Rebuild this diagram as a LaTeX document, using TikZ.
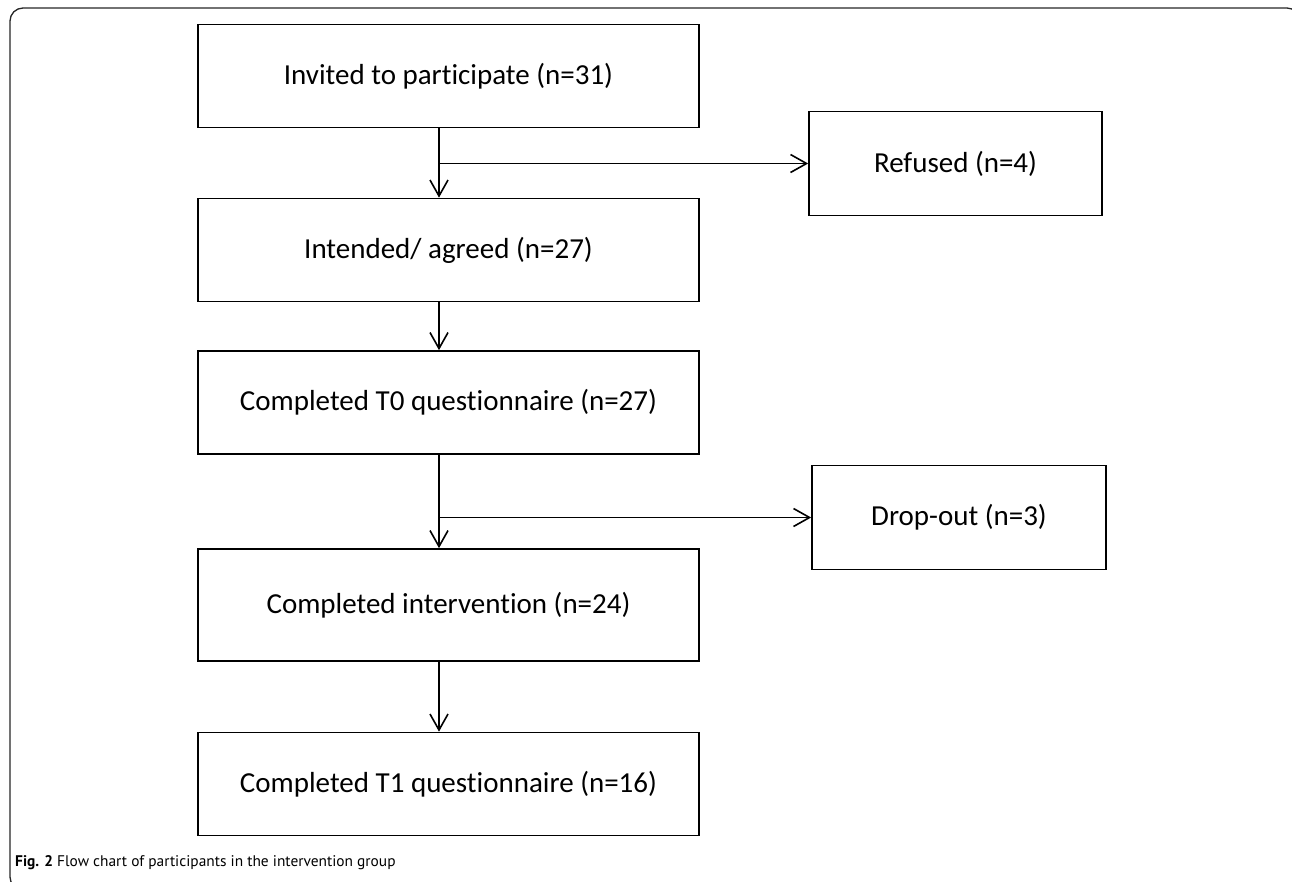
\documentclass[tikz,border=0pt]{standalone}
\usepackage{fontspec}
\setmainfont{Carlito}[Ligatures=NoCommon]
\newfontfamily\capfont{PT Sans}
\usetikzlibrary{arrows.meta, positioning}

\begin{document}
\begin{tikzpicture}[x=1pt, y=-1pt,
  every node/.style={font=\fontsize{29}{34}\selectfont},
  mainbox/.style={draw, line width=1.7pt, minimum width=501pt, minimum height=103pt, inner sep=0pt},
  sidebox/.style={draw, line width=1.7pt, minimum width=294pt, minimum height=104pt, inner sep=0pt},
  flow/.style={line width=1.6pt, -{Straight Barb[length=16pt, width=18pt, line width=1.6pt]}}]
\useasboundingbox (0,0) rectangle (1292,881);
% outer frame, cut by the page edge
\begin{scope}
\clip (0,0) rectangle (1292,881);
\draw[line width=1.3pt, black!85, rounded corners=13pt] (10,8) rectangle (1300,890);
\end{scope}
% main column
\node[mainbox] (invited) at (448.5,76) {Invited to participate (n=31)};
\node[mainbox] (intended) at (448.5,250) {Intended/ agreed (n=27)};
\node[mainbox] (tzero) at (448.5,402.5) {Completed T0 questionnaire (n=27)};
\node[mainbox, minimum height=112pt] (interv) at (448.5,605) {Completed intervention (n=24)};
\node[mainbox] (tone) at (448.5,784) {Completed T1 questionnaire (n=16)};
% side boxes
\node[sidebox, minimum width=293pt] (refused) at (955.5,163.5) {Refused (n=4)};
\node[sidebox] (dropout) at (959,517.5) {Drop-out (n=3)};
% arrows
\coordinate (spine) at (439,0);
\coordinate (split1) at (439,163.5);
\coordinate (split2) at (439,517.5);
\draw[flow] (invited.south -| spine) -- (intended.north -| spine);
\draw[flow] (split1) -- (refused.west);
\draw[flow] (intended.south -| spine) -- (tzero.north -| spine);
\draw[flow] (tzero.south -| spine) -- (interv.north -| spine);
\draw[flow] (split2) -- (dropout.west);
\draw[flow] (interv.south -| spine) -- (tone.north -| spine);
% caption
\node[anchor=base west, inner sep=0pt, font=\capfont\fontsize{15.4}{18}\selectfont] (caption) at (15,866)
  {\textbf{Fig. 2} Flow chart of participants in the intervention group};
\end{tikzpicture}
\end{document}
